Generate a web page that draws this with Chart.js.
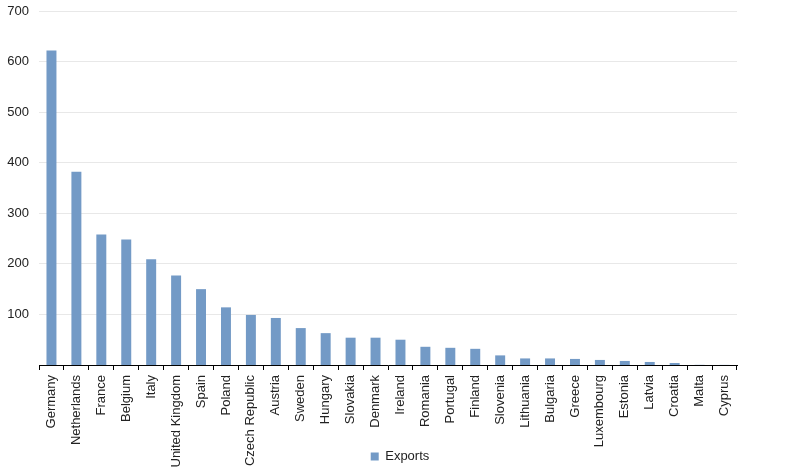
<!DOCTYPE html>
<html>
<head>
<meta charset="utf-8">
<script src="https://cdn.jsdelivr.net/npm/chart.js@4"></script>
<style>
  html, body { margin: 0; padding: 0; background: #fff; }
  #wrap { width: 800px; height: 476px; }
</style>
</head>
<body>
<div id="wrap"><canvas id="bargraph"></canvas></div>
<script>
var countries = ['Germany', 'Netherlands', 'France', 'Belgium', 'Italy', 'United Kingdom', 'Spain',
    'Poland', 'Czech Republic', 'Austria', 'Sweden', 'Hungary', 'Slovakia', 'Denmark', 'Ireland',
    'Romania', 'Portugal', 'Finland', 'Slovenia', 'Lithuania', 'Bulgaria', 'Greece', 'Luxembourg',
    'Estonia', 'Latvia', 'Croatia', 'Malta', 'Cyprus'];
var exports = [622, 382, 258, 248, 209, 177, 150, 114, 99, 93, 73, 63, 54, 54, 50,
    36, 34, 32, 19, 13, 13, 12, 10, 8, 6, 4, 0.3, 0.2];
var yTicks = [100, 200, 300, 400, 500, 600, 700];

Chart.defaults.font.family = '"Liberation Sans", Arial, sans-serif';
Chart.defaults.font.size = 13;
Chart.defaults.color = '#222';

// let the rotated country names run down past the x scale box (it clips labels otherwise)
// and centre the legend on the whole canvas rather than the padded area
var tweakLayout = {
    id: 'tweakLayout',
    afterLayout: function (chart) {
        chart.scales.x.bottom = chart.height;
        chart.legend.left = 0;
        chart.legend.right = chart.width;
    }
};

var ctx = document.getElementById('bargraph').getContext('2d');
var exportsChart = new Chart(ctx, {
    type: 'bar',
    data: {
        labels: countries,
        datasets: [{
            label: 'Exports',
            data: exports,
            backgroundColor: 'rgb(115, 154, 198)',
            barPercentage: 0.4,
            categoryPercentage: 1
        }]
    },
    options: {
        responsive: true,
        maintainAspectRatio: false,
        animation: false,
        layout: { padding: { top: 11, right: 63, left: 0, bottom: 3 } },
        plugins: {
            tooltip: { enabled: false },
            legend: {
                position: 'bottom',
                labels: { boxWidth: 8, boxHeight: 8, padding: 9 }
            }
        },
        scales: {
            x: {
                grid: { drawOnChartArea: false, color: '#000', tickLength: 5 },
                border: { color: '#000' },
                ticks: { autoSkip: false, minRotation: 90, maxRotation: 90, padding: 5 },
                afterFit: function (scale) {
                    scale.height = 76;
                    scale.paddingLeft = 0;
                    scale.paddingRight = 0;
                }
            },
            y: {
                min: 0,
                max: 700,
                border: { display: false },
                grid: { color: '#e8e8e8', drawTicks: false },
                ticks: {
                    stepSize: 100,
                    padding: 10,
                    callback: function (v) { return yTicks.indexOf(v) >= 0 ? v : null; }
                },
                afterFit: function (scale) {
                    scale.width = 39;
                    scale.paddingTop = 0;
                    scale.paddingBottom = 0;
                }
            }
        }
    },
    plugins: [tweakLayout]
});
</script>
</body>
</html>
